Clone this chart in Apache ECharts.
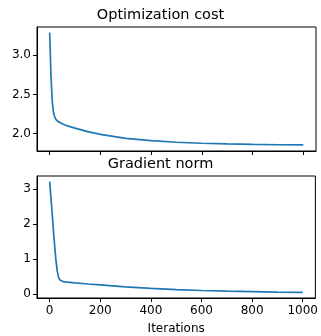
<!DOCTYPE html>
<html>
<head>
<meta charset="utf-8">
<script src="https://cdn.jsdelivr.net/npm/echarts@6/dist/echarts.min.js"></script>
<style>
html,body{margin:0;padding:0;background:#fff;}
#c{width:321px;height:336px;}
</style>
</head>
<body>
<div id="c"></div>
<script>
const iterations = [0,5,10,15,20,25,30,35,40,50,60,80,100,150,200,300,400,500,600,700,800,900,1000];
const costValues = [3.29,2.75,2.42,2.27,2.21,2.18,2.16,2.15,2.14,2.125,2.11,2.09,2.07,2.025,1.99,1.94,1.91,1.89,1.877,1.868,1.862,1.858,1.855];
const gradValues = [3.21,2.75,2.3,1.8,1.35,0.95,0.65,0.48,0.40,0.355,0.34,0.325,0.31,0.28,0.255,0.2,0.155,0.12,0.095,0.075,0.06,0.048,0.04];
const xTicks = [0,200,400,600,800,1000];
const costTicks = [2.0,2.5,3.0];
const gradTicks = [0,1,2,3];
const titles = ['Optimization cost','Gradient norm'];
const xLabel = 'Iterations';

const FONT = 'DejaVu Sans';
const chart = echarts.init(document.getElementById('c'));
function xAx(gi, showLabels){
  return {
    type:'value', gridIndex:gi, min:-50, max:1050,
    axisLine:{show:true, onZero:false, lineStyle:{color:'#000', width:1}},
    axisTick:{show:true, length:4, customValues:xTicks, lineStyle:{color:'#000', width:1}},
    axisLabel:{show:showLabels, customValues:xTicks, margin:7, color:'#000', fontSize:12, fontFamily:FONT, formatter: v => String(v)},
    splitLine:{show:false},
    name: showLabels ? xLabel : '', nameLocation:'middle', nameGap:25,
    nameTextStyle:{color:'#000', fontSize:12, fontFamily:FONT}
  };
}
function yAx(gi, min, max, ticks, fmt){
  return {
    type:'value', gridIndex:gi, min:min, max:max,
    axisLine:{show:true, onZero:false, lineStyle:{color:'#000', width:1}},
    axisTick:{show:true, length:4, customValues:ticks, lineStyle:{color:'#000', width:1}},
    axisLabel:{customValues:ticks, margin:6, color:'#000', fontSize:12, fontFamily:FONT, formatter:fmt},
    splitLine:{show:false}
  };
}
chart.setOption({
  animation:false,
  title:[
    {text:titles[0], left:'center', top:8, padding:0, textStyle:{fontSize:14.5, fontWeight:'normal', color:'#000', fontFamily:FONT}},
    {text:titles[1], left:'center', top:157, padding:0, textStyle:{fontSize:14.5, fontWeight:'normal', color:'#000', fontFamily:FONT}}
  ],
  grid:[
    {left:37, right:5, top:27, height:124, show:true, borderColor:'#000', borderWidth:1, backgroundColor:'#fff'},
    {left:37, right:5, top:176, height:124, show:true, borderColor:'#000', borderWidth:1, backgroundColor:'#fff'}
  ],
  xAxis:[xAx(0,false), xAx(1,true)],
  yAxis:[
    yAx(0, 1.778, 3.362, costTicks, v => v.toFixed(1)),
    yAx(1, -0.12, 3.37, gradTicks, v => String(Math.round(v)))
  ],
  series:[
    {type:'line', xAxisIndex:0, yAxisIndex:0, showSymbol:false, lineStyle:{color:'#1f77b4', width:1.7},
     data: iterations.map((x,i)=>[x,costValues[i]])},
    {type:'line', xAxisIndex:1, yAxisIndex:1, showSymbol:false, lineStyle:{color:'#1f77b4', width:1.7},
     data: iterations.map((x,i)=>[x,gradValues[i]])}
  ]
});
</script>
</body>
</html>
